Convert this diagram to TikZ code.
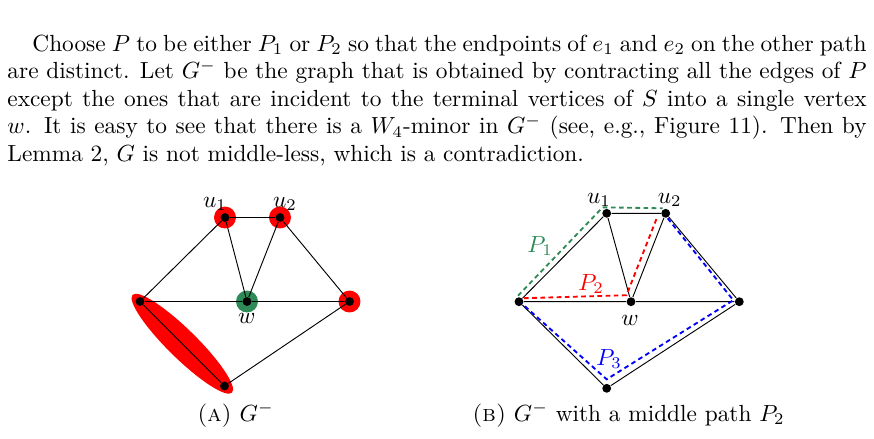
\documentclass[tikz,border=0pt]{standalone}
\usepackage{amsmath}
\usetikzlibrary{calc}
\usetikzlibrary{shapes.geometric}

\definecolor{pgreen}{RGB}{46,139,87}

\begin{document}
\begin{tikzpicture}[x=0.4287pt,y=-0.4287pt,
  vert/.style={circle,fill=black,inner sep=0pt,minimum size=3.8pt},
  halo/.style={circle,inner sep=0pt,minimum size=9.4pt},
  lab/.style={anchor=base,inner sep=0pt},
  mpath/.style={line width=0.8pt,dash pattern=on 2pt off 1.5pt}]

 \useasboundingbox (0,0) rectangle (874,438);

 \node[anchor=base west, inner sep=0pt, text width=368.3pt, align=justify,
  font=\fontsize{10}{11.8}\selectfont] (para) at (7,51){%
  \hspace*{10.7pt}Choose $P$ to be either $P_1$ or $P_2$ so that the endpoints of $e_1$ and $e_2$ on the other path\linebreak
  are distinct. Let $G^-$ be the graph that is obtained by contracting all the edges of $P$\linebreak
  except the ones that are incident to the terminal vertices of $S$ into a single vertex\linebreak
  $w$. It is easy to see that there is a $W_4$-minor in $G^-$ (see, e.g., Figure 11). Then by\linebreak
  Lemma 2, $G$ is not middle-less, which is a contradiction.};

 % (a) the contracted graph
 \node[halo, fill=red] (hu1a) at (225,217.5){};
 \node[halo, fill=red] (hu2a) at (280,217.5){};
 \node[halo, fill=red] (hra) at (349.5,301.5){};
 \node[halo, fill=pgreen] (hwa) at (247,301.5){};
 \node[ellipse, fill=red, inner sep=0pt, minimum width=59.8pt, minimum height=12.4pt,
  rotate=-44.5] (ella) at (182.3,343.7){};

 \node[vert] (u1a) at (225,217.5){};
 \node[vert] (u2a) at (280,217.5){};
 \node[vert] (wa) at (247,301.5){};
 \node[vert] (la) at (140,301.5){};
 \node[vert] (ra) at (349.5,301.5){};
 \node[vert] (ba) at (224.5,386){};

 \draw (la) -- (u1a) -- (u2a) -- (ra) -- (ba) -- (la) -- (wa) -- (ra);
 \draw (u1a) -- (wa) -- (u2a);

 \node[lab] (labu1a) at (215,207){$u_1$};
 \node[lab] (labu2a) at (285,207){$u_2$};
 \node[lab] (labwa) at (246.7,323){$w$};
 \node[lab] (capa) at (235.5,421){\textsc{(a)} $G^-$};

 % (b) the three paths
 \node[vert] (u1b) at (606.7,213.3){};
 \node[vert] (u2b) at (665.7,213.3){};
 \node[vert] (wb) at (631,301.7){};
 \node[vert] (lb) at (519,301.7){};
 \node[vert] (rb) at (739.3,301.7){};
 \node[vert] (bb) at (606.7,388.3){};

 \draw (lb) -- (u1b) -- (u2b) -- (rb) -- (bb) -- (lb) -- (wb) -- (rb);
 \draw (u1b) -- (wb) -- (u2b);

 \draw[mpath, pgreen] ($(lb)+(-1,-6)$) -- ($(u1b)+(-4,-6)$) -- ($(u2b)+(-3,-5)$);
 \draw[mpath, red] ($(lb)+(5,-3.5)$) -- ($(wb)+(-4.5,-6.5)$) -- ($(u2b)+(-9,5)$);
 \draw[mpath, blue] ($(u2b)+(2,5)$) -- ($(rb)+(-6,-1.5)$) -- ($(bb)+(0,-9)$) -- ($(lb)+(3,2)$);

 \node[lab] (labu1b) at (599,203){$u_1$};
 \node[lab] (labu2b) at (669.7,203){$u_2$};
 \node[lab] (labwb) at (630,325){$w$};
 \node[lab, text=pgreen] (labp1) at (540,252){$P_1$};
 \node[lab, text=red] (labp2) at (591,290){$P_2$};
 \node[lab, text=blue] (labp3) at (609,365){$P_3$};
 \node[lab] (capb) at (628.5,421){\textsc{(b)} $G^-$ with a middle path $P_2$};
\end{tikzpicture}
\end{document}
